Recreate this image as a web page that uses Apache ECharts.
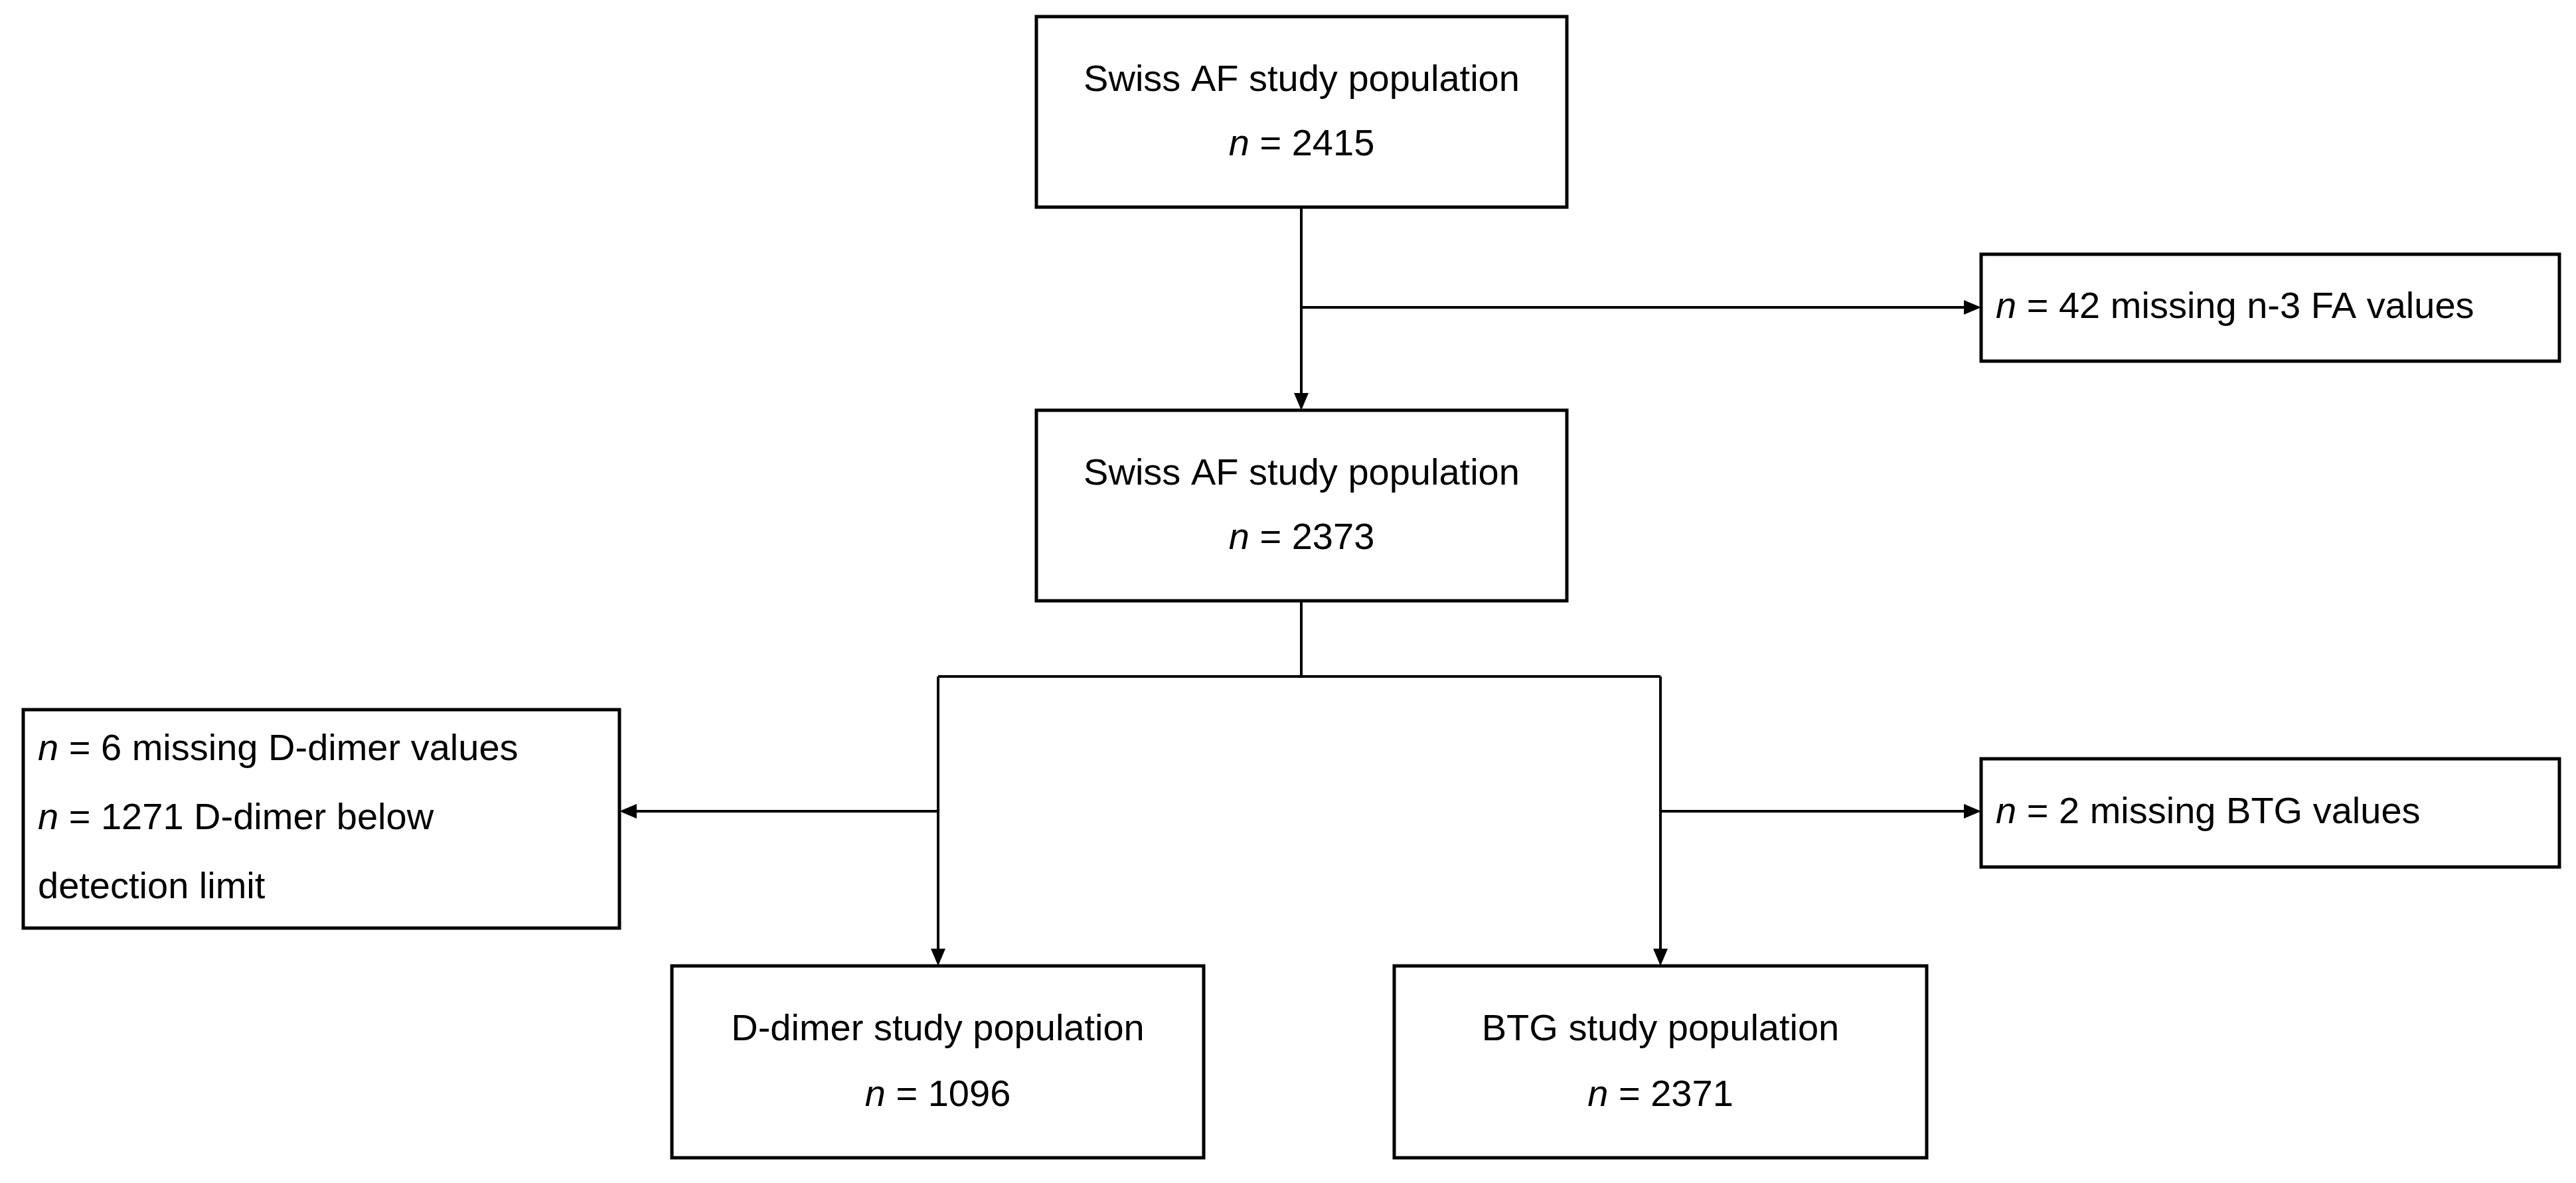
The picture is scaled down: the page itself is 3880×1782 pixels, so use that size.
<!DOCTYPE html>
<html><head><meta charset="utf-8">
<script src="https://cdn.jsdelivr.net/npm/echarts@6/dist/echarts.min.js"></script>
<style>html,body{margin:0;padding:0;background:#fff}#c{width:3880px;height:1782px}</style>
</head><body><div id="c"></div>
<script>
const boxLabels = ['Swiss AF study population','n = 42 missing n-3 FA values','Swiss AF study population','n = 6 missing D-dimer values|n = 1271 D-dimer below|detection limit','n = 2 missing BTG values','D-dimer study population','BTG study population'];
const boxCounts = [2415, null, 2373, null, null, 1096, 2371];

const boxes = [
  {x:1561,y:25,w:799,h:287,center:true},
  {x:2984,y:383,w:871,h:161,center:false},
  {x:1561,y:618,w:799,h:287,center:true},
  {x:35,y:1069,w:898,h:329,center:false},
  {x:2984,y:1143,w:871,h:163,center:false},
  {x:1012,y:1455,w:801,h:289,center:true},
  {x:2100,y:1455,w:802,h:289,center:true}
];
const FONT = '"Liberation Sans", Arial, sans-serif';
const FS = 56;
const els = [];
const rich = {i:{fontStyle:'italic',fontSize:FS,fontFamily:FONT,fill:'#000'}, r:{fontSize:FS,fontFamily:FONT,fill:'#000'}};
function fmt(s){ return s.replace(/^n = /,'{i|n}{r| = }').replace(/^(\{i\|n\}\{r\| = \})(.*)$/,'$1{r|$2}'); }
function line(pts){ els.push({type:'polyline',shape:{points:pts},style:{stroke:'#000',lineWidth:4,fill:null}}); }
function arrow(x1,y1,x2,y2){
  const L=26,W=11,dx=x2-x1,dy=y2-y1,len=Math.hypot(dx,dy),ux=dx/len,uy=dy/len;
  const bx=x2-ux*L,by=y2-uy*L;
  line([[x1,y1],[bx,by]]);
  els.push({type:'polygon',shape:{points:[[x2,y2],[bx-uy*W,by+ux*W],[bx+uy*W,by-ux*W]]},style:{fill:'#000'}});
}
boxes.forEach((b,k)=>{
  els.push({type:'rect',shape:{x:b.x,y:b.y,width:b.w,height:b.h},style:{fill:'#fff',stroke:'#000',lineWidth:5}});
  if(b.center){
    els.push({type:'text',x:b.x+b.w/2,y:b.y+b.h*0.335,style:{text:boxLabels[k],font:FS+'px '+FONT,fill:'#000',align:'center',verticalAlign:'middle'}});
    els.push({type:'text',x:b.x+b.w/2,y:b.y+b.h*0.675,style:{text:'{i|n}{r| = '+boxCounts[k]+'}',rich:rich,align:'center',verticalAlign:'middle'}});
  } else {
    const parts=boxLabels[k].split('|');
    const step = parts.length>1 ? 104 : 0;
    const y0 = b.y + b.h/2 - step*(parts.length-1)/2;
    parts.forEach((p,j)=>{
      const t = /^n = /.test(p) ? '{i|n}{r| = '+p.slice(4)+'}' : '{r|'+p+'}';
      els.push({type:'text',x:b.x+22,y:y0+j*step,style:{text:t,rich:rich,align:'left',verticalAlign:'middle'}});
    });
  }
});
// connectors
arrow(1960,312,1960,618);
arrow(1960,463,2984,463);
line([[1960,905],[1960,1019]]);
line([[1413,1019],[2501,1019]]);
arrow(1413,1019,1413,1455);
arrow(2501,1019,2501,1455);
arrow(1413,1222,933,1222);
arrow(2501,1222,2984,1222);

const chart = echarts.init(document.getElementById('c'));
chart.setOption({backgroundColor:'#fff',animation:false,graphic:{elements:els}});
</script></body></html>
